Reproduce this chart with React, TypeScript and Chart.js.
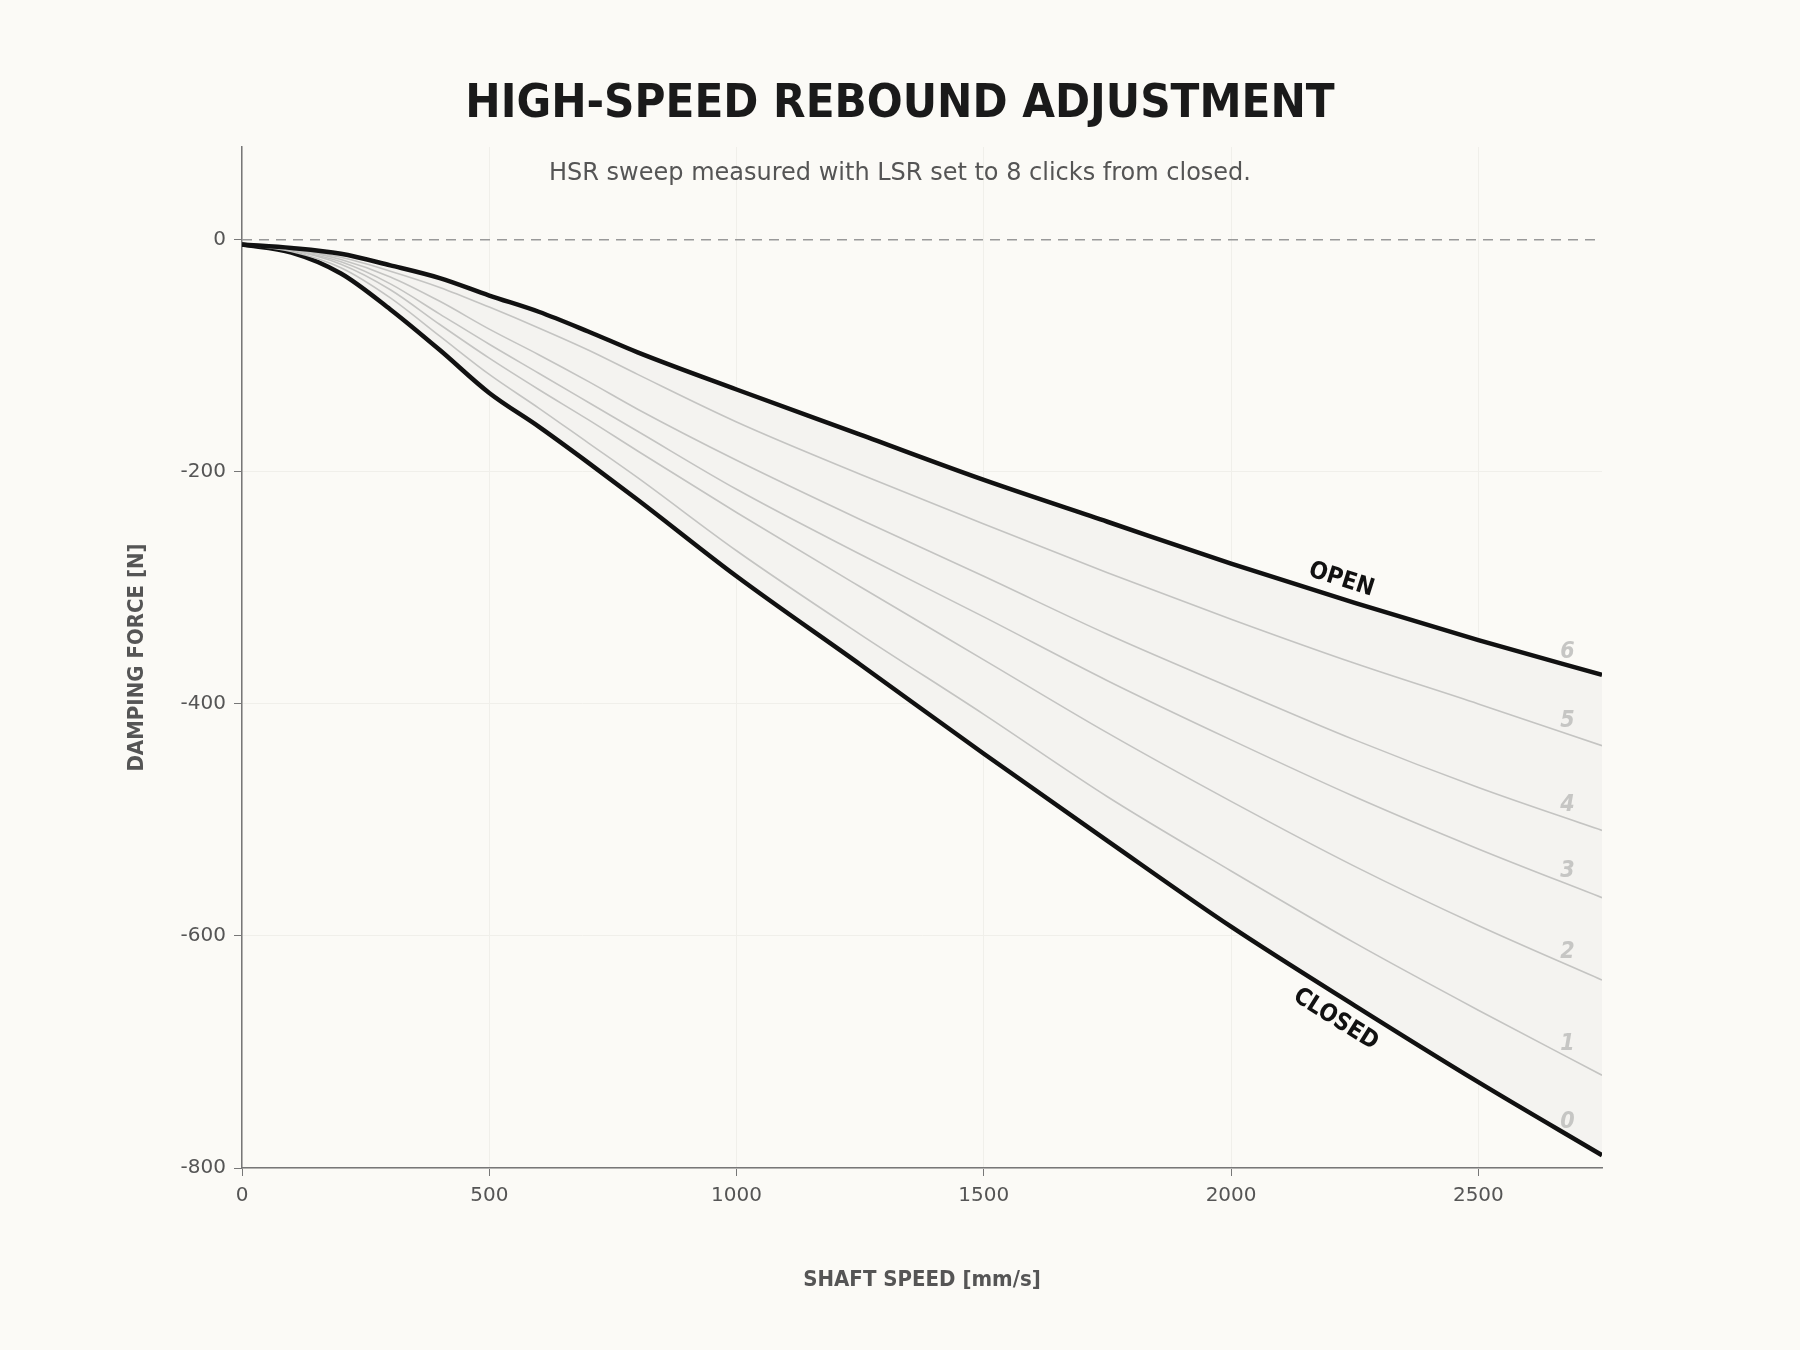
import React, { useEffect, useRef } from "react";
import { Chart, registerables } from "chart.js";

Chart.register(...registerables);

// ---- data ----
const speed = [0, 100, 200, 300, 400, 500, 600, 700, 800, 1000, 1250, 1500, 1750, 2000, 2250, 2500, 2750];
const click0 = [-4, -11, -29, -60, -95, -132, -161, -192, -224, -290, -366, -443, -518, -592, -660, -726, -789]; // closed
const click1 = [-4, -10, -24, -50, -83, -116, -145, -175, -205, -268, -340, -409, -480, -544, -606, -664, -720];
const click2 = [-4, -9, -21, -43, -73, -102, -129, -155, -182, -235, -299, -362, -425, -484, -540, -591, -638];
const click3 = [-4, -9, -19, -38, -64, -90, -115, -140, -165, -215, -271, -325, -380, -431, -480, -525, -567];
const click4 = [-4, -8, -17, -32, -53, -77, -99, -122, -146, -190, -241, -290, -340, -386, -431, -472, -509];
const click5 = [-4, -8, -15, -27, -41, -58, -76, -95, -116, -157, -202, -245, -287, -327, -365, -400, -436];
const click6 = [-4, -7, -12, -22, -33, -48, -62, -79, -97, -129, -168, -207, -243, -279, -313, -345, -375]; // open
const clickSeries = [click0, click1, click2, click3, click4, click5, click6];
const clickLabels = ["0", "1", "2", "3", "4", "5", "6"];
const zeroX = [0, 2750];
const zeroY = [0, 0];
const xTicks = [0, 500, 1000, 1500, 2000, 2500];
const yTicks = [-800, -600, -400, -200, 0];
const titleText = "HIGH-SPEED REBOUND ADJUSTMENT";
const subtitleText = "HSR sweep measured with LSR set to 8 clicks from closed.";
const xTitle = "SHAFT SPEED [mm/s]";
const yTitle = "DAMPING FORCE [N]";
const openLabel = "OPEN";
const closedLabel = "CLOSED";
const openLabelX = 2212;
const closedLabelX = 2235;
const numberLabelX = 2680;

const BG = "#fbfaf6";
const FILL = "#f4f3f0";
const FONT = "'DejaVu Sans Condensed', 'DejaVu Sans', sans-serif";
const FONT_W = "'DejaVu Sans', sans-serif";

function interp(xs: number[], ys: number[], x: number) {
  for (let i = 0; i < xs.length - 1; i++) {
    if (x >= xs[i] && x <= xs[i + 1]) {
      const t = (x - xs[i]) / (xs[i + 1] - xs[i]);
      return ys[i] + t * (ys[i + 1] - ys[i]);
    }
  }
  return ys[ys.length - 1];
}

const pts = (ys: number[]) => ys.map((y, i) => ({ x: speed[i], y }));

export default function App() {
  const ref = useRef<HTMLCanvasElement | null>(null);
  useEffect(() => {
    document.body.style.margin = "0";
    document.body.style.background = BG;
    const canvas = ref.current!;
    const bgPlugin = {
      id: "bg",
      beforeDraw(chart: any) {
        const { ctx } = chart;
        ctx.save();
        ctx.fillStyle = BG;
        ctx.fillRect(0, 0, chart.width, chart.height);
        ctx.restore();
      },
    };
    const textPlugin = {
      id: "texts",
      afterDatasetsDraw(chart: any) {
        const { ctx, scales } = chart;
        const xs = scales.x, ys = scales.y;
        ctx.save();
        // number labels
        ctx.font = `italic bold 23px ${FONT}`;
        ctx.fillStyle = "#c6c6c4";
        ctx.textAlign = "center";
        ctx.textBaseline = "middle";
        clickSeries.forEach((s, i) => {
          const px = xs.getPixelForValue(numberLabelX);
          const py = ys.getPixelForValue(interp(speed, s, numberLabelX));
          ctx.fillText(clickLabels[i], px, py - 13);
        });
        // line labels
        const drawAlong = (text: string, series: number[], xv: number, offset: number) => {
          const px = xs.getPixelForValue(xv);
          const py = ys.getPixelForValue(interp(speed, series, xv));
          const px2 = xs.getPixelForValue(xv + 50);
          const py2 = ys.getPixelForValue(interp(speed, series, xv + 50));
          const ang = Math.atan2(py2 - py, px2 - px);
          ctx.save();
          ctx.translate(px, py);
          ctx.rotate(ang);
          ctx.font = `bold 24px ${FONT}`;
          ctx.fillStyle = "#111111";
          ctx.textAlign = "center";
          ctx.textBaseline = "middle";
          ctx.fillText(text, 0, offset);
          ctx.restore();
        };
        drawAlong(openLabel, click6, openLabelX, -18);
        drawAlong(closedLabel, click0, closedLabelX, 22);
        ctx.restore();
      },
      afterDraw(chart: any) {
        const { ctx, chartArea } = chart;
        ctx.save();
        ctx.textAlign = "center";
        ctx.textBaseline = "middle";
        ctx.fillStyle = "#1a1a1a";
        ctx.font = `bold 47px ${FONT}`;
        ctx.fillText(titleText, chart.width / 2, 105);
        ctx.fillStyle = "#555555";
        ctx.font = `24px ${FONT_W}`;
        ctx.fillText(subtitleText, chart.width / 2, 174);
        ctx.font = `bold 22px ${FONT}`;
        ctx.fillText(xTitle, (chartArea.left + chartArea.right) / 2, 1280);
        ctx.translate(137, (chartArea.top + chartArea.bottom) / 2);
        ctx.rotate(-Math.PI / 2);
        ctx.fillText(yTitle, 0, 0);
        ctx.restore();
      },
    };

    const thin = (data: number[]) => ({
      data: pts(data),
      borderColor: "#c4c4c2",
      borderWidth: 1.6,
      pointRadius: 0,
      fill: false,
      cubicInterpolationMode: "monotone" as const,
    });

    const chart = new Chart(canvas, {
      type: "line",
      data: {
        datasets: [
          {
            data: zeroX.map((x, i) => ({ x, y: zeroY[i] })),
            borderColor: "#999999",
            borderWidth: 1.5,
            borderDash: [10, 7],
            pointRadius: 0,
            fill: false,
          },
          {
            data: pts(click6),
            borderColor: "#111111",
            borderWidth: 4.5,
            pointRadius: 0,
            backgroundColor: FILL,
            fill: { target: 7 },
            cubicInterpolationMode: "monotone",
          },
          thin(click5),
          thin(click4),
          thin(click3),
          thin(click2),
          thin(click1),
          {
            data: pts(click0),
            borderColor: "#111111",
            borderWidth: 4.5,
            pointRadius: 0,
            fill: false,
            cubicInterpolationMode: "monotone",
          },
        ] as any,
      },
      options: {
        animation: false,
        responsive: false,
        devicePixelRatio: 1,
        layout: { padding: { left: 0, right: 198, top: 147, bottom: 0 } },
        plugins: {
          legend: { display: false },
          tooltip: { enabled: false },
          title: { display: false },
          filler: { drawTime: "beforeDatasetsDraw" },
        } as any,
        scales: {
          x: {
            type: "linear",
            min: 0,
            max: 2750,
            afterBuildTicks: (s: any) => {
              s.ticks = xTicks.map((v) => ({ value: v }));
            },
            afterFit: (s: any) => {
              s.height = 182;
            },
            grid: {
              color: "#f0efea",
              lineWidth: 1,
              tickColor: "#777777",
              tickLength: 8,
            },
            border: { color: "#777777", width: 1.5 },
            ticks: {
              color: "#555555",
              font: { family: FONT_W, size: 20 },
              padding: 8,
              maxRotation: 0,
              callback: (v: any) => String(v),
            },
          },
          y: {
            type: "linear",
            min: -800,
            max: 80,
            afterBuildTicks: (s: any) => {
              s.ticks = yTicks.map((v) => ({ value: v }));
            },
            afterFit: (s: any) => {
              s.width = 242;
            },
            grid: {
              color: (c: any) => (c.tick && c.tick.value === 0 ? "rgba(0,0,0,0)" : "#f0efea"),
              lineWidth: 1,
              tickColor: "#777777",
              tickLength: 8,
            },
            border: { color: "#777777", width: 1.5 },
            ticks: {
              color: "#555555",
              font: { family: FONT_W, size: 20 },
              padding: 8,
              callback: (v: any) => String(v),
            },
          },
        },
      } as any,
      plugins: [bgPlugin, textPlugin],
    });
    return () => chart.destroy();
  }, []);
  return (
    <div style={{ width: 1800, height: 1350, background: BG }}>
      <canvas ref={ref} width={1800} height={1350} style={{ width: 1800, height: 1350, display: "block" }} />
    </div>
  );
}
